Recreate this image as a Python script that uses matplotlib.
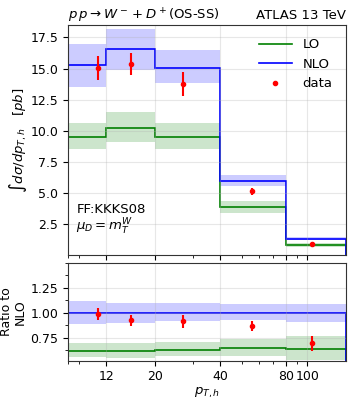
import matplotlib
matplotlib.use("Agg")
import matplotlib.pyplot as plt
import numpy as np
from matplotlib.lines import Line2D
from matplotlib.ticker import AutoMinorLocator, FixedLocator, FixedFormatter, NullFormatter

plt.rcParams["font.size"] = 9.5
plt.rcParams["xtick.labelsize"] = 9
plt.rcParams["ytick.labelsize"] = 9

# bin edges in p_T,h
edges = np.array([8, 12, 20, 40, 80, 150])

# LO / NLO predictions [pb] with scale bands
lo = np.array([9.46, 10.2, 9.46, 3.84, 0.83])
lo_up = np.array([10.6, 11.5, 10.6, 4.38, 1.0])
lo_dn = np.array([8.52, 9.1, 8.52, 3.39, 0.69])
nlo = np.array([15.25, 16.6, 15.05, 5.94, 1.31])
nlo_up = np.array([17.0, 18.2, 16.5, 6.45, 1.43])
nlo_dn = np.array([13.5, 14.9, 13.85, 5.53, 1.19])

# ATLAS data
data_x = np.array([11.0, 15.5, 27.0, 56.0, 105.0])
data_y = np.array([15.05, 15.35, 13.76, 5.13, 0.91])
data_err = np.array([0.95, 0.9, 1.0, 0.3, 0.1])

xticks = [12, 20, 40, 80, 100]

fig = plt.figure(figsize=(3.54, 4.03), dpi=100)
ax = fig.add_axes([0.192, 0.367, 0.7845, 0.571])
axr = fig.add_axes([0.192, 0.105, 0.7845, 0.243], sharex=ax)

# top panel
ax.stairs(lo_up, edges, baseline=lo_dn, fill=True, color="green", alpha=0.2, lw=0)
ax.stairs(nlo_up, edges, baseline=nlo_dn, fill=True, color="blue", alpha=0.2, lw=0)
ax.stairs(lo, edges, color="green", lw=1.2)
ax.stairs(nlo, edges, color="blue", lw=1.2)
ax.errorbar(data_x, data_y, yerr=data_err, fmt="o", color="red", ms=3, elinewidth=1.5)
ax.set_xscale("log")
ax.set_xlim(8, 150)
ax.set_ylim(0.0, 18.5)
ax.set_yticks([2.5, 5.0, 7.5, 10.0, 12.5, 15.0, 17.5])
ax.grid(alpha=0.3)
ax.set_ylabel(r"$\int d\sigma/dp_{T,h}$   $[pb]$")
ax.yaxis.set_label_coords(-0.14, 0.5)
handles = [Line2D([], [], color="green", lw=1.2),
           Line2D([], [], color="blue", lw=1.2),
           Line2D([], [], color="red", marker="o", ms=3, ls="none")]
ax.legend(handles, ["LO", "NLO", "data"], loc="upper right", frameon=False,
          handlelength=2.5, borderaxespad=0.6)
ax.set_title(r"$p\,p \rightarrow W^- + D^+$(OS-SS)", loc="left", fontsize=9.5, pad=4)
ax.set_title("ATLAS 13 TeV", loc="right", fontsize=9.5, pad=4)
ax.text(0.03, 0.185, "FF:KKKS08", transform=ax.transAxes)
ax.text(0.03, 0.105, r"$\mu_D = m_T^W$", transform=ax.transAxes)
plt.setp(ax.get_xticklabels(which="both"), visible=False)

# ratio panel
axr.stairs(lo_up / nlo, edges, baseline=lo_dn / nlo, fill=True, color="green", alpha=0.2, lw=0)
axr.stairs(nlo_up / nlo, edges, baseline=nlo_dn / nlo, fill=True, color="blue", alpha=0.2, lw=0)
axr.stairs(lo / nlo, edges, color="green", lw=1.2)
axr.stairs(nlo / nlo, edges, color="blue", lw=1.2)
axr.errorbar(data_x, data_y / nlo, yerr=data_err / nlo, fmt="o", color="red", ms=3,
             elinewidth=1.5)
axr.set_ylim(0.52, 1.5)
axr.set_yticks([0.75, 1.0, 1.25])
axr.yaxis.set_minor_locator(AutoMinorLocator(2))
axr.grid(alpha=0.3)
axr.set_ylabel("Ratio to\nNLO", fontsize=9, linespacing=1.0)
axr.yaxis.set_label_coords(-0.15, 0.5)
axr.set_xlabel(r"$p_{T,h}$", labelpad=2)
axr.xaxis.set_major_locator(FixedLocator(xticks))
axr.xaxis.set_major_formatter(FixedFormatter([str(t) for t in xticks]))
axr.xaxis.set_minor_formatter(NullFormatter())

for a in (ax, axr):
    for s in a.spines.values():
        s.set_color("#333333")

fig.savefig("out.png", dpi=100)
